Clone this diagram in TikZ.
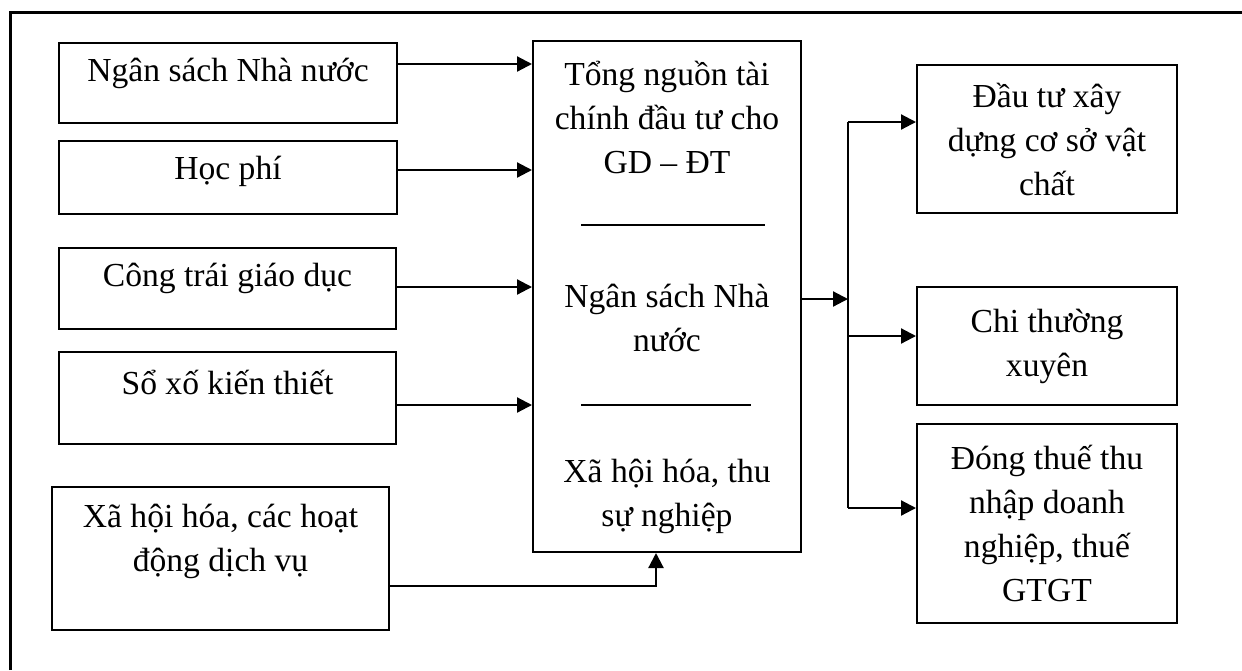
\documentclass[tikz,border=0pt]{standalone}
\usepackage{fontspec}
\setmainfont{Liberation Serif}
\usetikzlibrary{arrows.meta}

\begin{document}
\begin{tikzpicture}[
		x={(0.5pt,0pt)},
		y={(0pt,-0.5pt)},
		every node/.style={font=\fontsize{16.8}{22}\selectfont},
		box/.style={draw,line width=1pt,inner sep=0pt},
		txt/.style={align=center,inner sep=0pt},
		arr/.style={line width=1.1pt,-{Triangle[length=7.5pt,width=7.5pt]}},
	]
		\useasboundingbox (0,0) rectangle (1242,670);
		\draw[line width=1.5pt] (10,670) -- (10,12) -- (1242,12);
		
		% nguon von
		\foreach \n/\cx/\cy/\w/\h/\ty/\t in {ns/228/83/338/80/73/Ngân sách Nhà nước,
			hp/228/177.5/338/73/171/Học phí,
			ct/227.5/288.5/337/81/278/Công trái giáo dục,
			sx/227.5/398/337/92/382/Sổ xố kiến thiết,
			xh/220.5/558.5/337/143/541/{Xã hội hóa, các hoạt\\động dịch vụ}}{
			\node[box,minimum width=\w*0.5pt,minimum height=\h*0.5pt] (\n) at (\cx,\cy) {};
			\node[txt] (\n-t) at (\cx,\ty) {\t};
		}
		
		% tong nguon
		\node[box,minimum width=268*0.5pt,minimum height=511*0.5pt] (ctr) at (667,296.5) {};
		\node[txt] (ctr-a) at (667,117) {Tổng nguồn tài\\chính đầu tư cho\\GD – ĐT};
		\node[txt] (ctr-b) at (667,318) {Ngân sách Nhà\\nước};
		\node[txt] (ctr-c) at (667,496) {Xã hội hóa, thu\\sự nghiệp};
		\draw[line width=1pt] (581,225) -- (765,225);
		\draw[line width=1pt] (581,405) -- (751,405);
		
		% su dung
		\foreach \n/\cy/\h/\t in {r1/139/148/{Đầu tư xây\\dựng cơ sở vật\\chất},
			r2/346/118/{Chi thường\\xuyên},
			r3/523.5/199/{Đóng thuế thu\\nhập doanh\\nghiệp, thuế\\GTGT}}{
			\node[box,align=center,minimum width=260*0.5pt,minimum height=\h*0.5pt] (\n) at (1047,\cy) {\t};
		}
		
		\foreach \n/\y in {ns/64,hp/170,ct/287,sx/405}{
			\draw[arr] (\n.east |- 0,\y) -- (ctr.west |- 0,\y);
		}
		\draw[arr] (xh.east |- 0,586) -| (ctr.south -| 656,0);
		
		\coordinate (bus) at (848,299);
		\draw[arr] (ctr.east |- bus) -- (bus);
		\draw[line width=1.1pt] (bus |- 0,122) -- (bus |- 0,508);
		\foreach \n/\y in {r1/122,r2/336,r3/508}{
			\draw[arr] (bus |- 0,\y) -- (\n.west |- 0,\y);
		}
	\end{tikzpicture}
\end{document}
